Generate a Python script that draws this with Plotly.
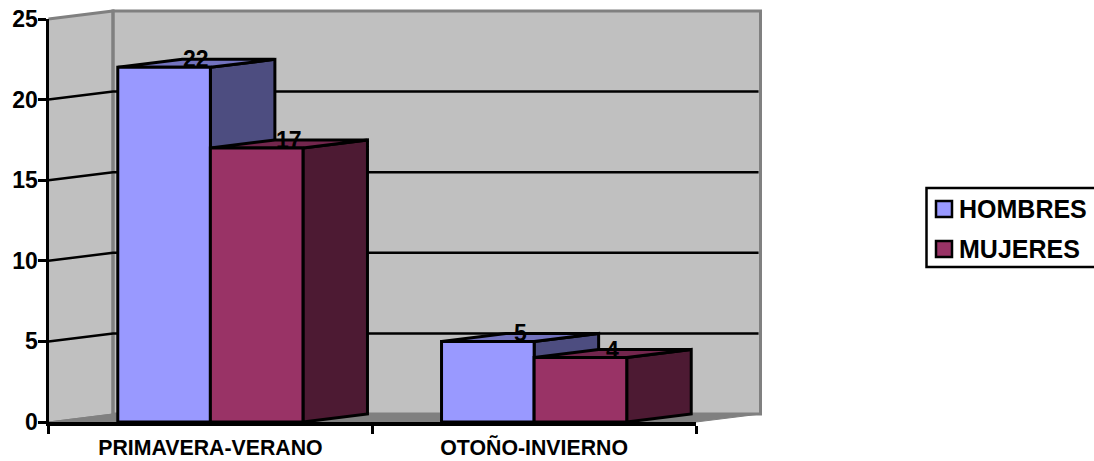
import plotly.graph_objects as go

# Chart data
categories = ["PRIMAVERA-VERANO", "OTOÑO-INVIERNO"]
hombres = [22, 5]
mujeres = [17, 4]
y_ticks = [0, 5, 10, 15, 20, 25]
series_names = ["HOMBRES", "MUJERES"]

# Canvas and pixel layout of the front plane
W, H = 1094, 461
PX_LEFT, PX_RIGHT = 48.5, 696
PX_ZERO, PX_TOP = 422, 19
DEPTH_PX_X, DEPTH_PX_Y = 64.5, 8

x_unit = (PX_RIGHT - PX_LEFT) / 2      # pixels per category
y_unit = (PX_ZERO - PX_TOP) / 25       # pixels per value unit
dx = DEPTH_PX_X / x_unit               # depth offset in data units
dy = DEPTH_PX_Y / y_unit
BAR_W = 0.286

FONT = "Liberation Sans, Arial, sans-serif"
BLACK = "#000000"
EDGE = 3
WALL = "#C0C0C0"
WALL_EDGE = "#808080"
FACES = [
    {"front": "#9999FF", "side": "#4D4D80", "top": "#7373BF"},
    {"front": "#993366", "side": "#4D1A33", "top": "#73264D"},
]

fig = go.Figure()


def poly(xs, ys, fill, line_color, width):
    fig.add_trace(go.Scatter(
        x=xs + xs[:1], y=ys + ys[:1], mode="lines", fill="toself" if fill else None,
        fillcolor=fill, line=dict(color=line_color, width=width),
        showlegend=False, hoverinfo="skip", xaxis="x", yaxis="y",
    ))


def path(xs, ys, color, width):
    fig.add_trace(go.Scatter(
        x=xs, y=ys, mode="lines", line=dict(color=color, width=width),
        showlegend=False, hoverinfo="skip", xaxis="x", yaxis="y",
    ))


X0, X1 = -0.5, 1.5
Y_MAX = max(y_ticks)

# Side wall, back wall and floor
poly([X0, X0 + dx, X0 + dx, X0], [0, dy, Y_MAX + dy, Y_MAX], WALL, WALL_EDGE, 1)
poly([X0 + dx, X1 + dx, X1 + dx, X0 + dx], [dy, dy, Y_MAX + dy, Y_MAX + dy], WALL, WALL_EDGE, 3)
path([X0, X0 + dx, X0 + dx], [Y_MAX, Y_MAX + dy, dy], WALL_EDGE, 3)
poly([X0, X1, X1 + dx, X0 + dx], [0, 0, dy, dy], WALL_EDGE, WALL_EDGE, 1)

# Gridlines run across the side wall and along the back wall
for v in y_ticks[1:-1]:
    path([X0, X0 + dx, X1 + dx - 0.006], [v, v + dy, v + dy], BLACK, 2.5)

# Top and side faces of every column, back to front
for c in range(len(categories)):
    for s, values in enumerate([hombres, mujeres]):
        v = values[c]
        left = c + (s - 1) * BAR_W
        right = left + BAR_W
        poly([right, right + dx, right + dx, right], [0, dy, v + dy, v], FACES[s]["side"], BLACK, EDGE)
        poly([left, left + dx, right + dx, right], [v, v + dy, v + dy, v], FACES[s]["top"], BLACK, EDGE)

# Front faces on real category and value axes
for s, values in enumerate([hombres, mujeres]):
    fig.add_trace(go.Bar(
        x=categories, y=values, name=series_names[s], xaxis="x2", yaxis="y2",
        marker=dict(color=FACES[s]["front"], line=dict(color=BLACK, width=EDGE)),
        showlegend=False, hoverinfo="skip",
    ))

annotations = []
# Value labels sit in the middle of each column's top face
for c in range(len(categories)):
    for s, values in enumerate([hombres, mujeres]):
        v = values[c]
        left = c + (s - 1) * BAR_W
        annotations.append(dict(
            x=left + BAR_W / 2 + dx / 2, y=v + dy, xref="x", yref="y", text=f"<b>{v}</b>",
            showarrow=False, xanchor="center", yanchor="middle",
            font=dict(family=FONT, size=23, color=BLACK),
        ))


# Legend box, cut by the right edge of the canvas
def px_x(p):
    return p / W


def px_y(p):
    return 1 - p / H


shapes = [dict(type="rect", xref="paper", yref="paper", x0=px_x(926.5), x1=px_x(1110),
               y0=px_y(267), y1=px_y(188), line=dict(color=BLACK, width=2.5),
               fillcolor="#FFFFFF", layer="above")]
for s, (name, top) in enumerate(zip(series_names, [201, 241])):
    shapes.append(dict(type="rect", xref="paper", yref="paper",
                       x0=px_x(936), x1=px_x(952), y0=px_y(top + 16), y1=px_y(top),
                       line=dict(color=BLACK, width=2.5), fillcolor=FACES[s]["front"], layer="above"))
    annotations.append(dict(
        x=px_x(957), y=px_y(top + 8), xref="paper", yref="paper", text=f"<b>{name}</b>",
        showarrow=False, xanchor="left", yanchor="middle",
        font=dict(family=FONT, size=25, color=BLACK),
    ))

fig.update_layout(
    width=W, height=H, margin=dict(l=0, r=0, t=0, b=0, pad=0),
    paper_bgcolor="#FFFFFF", plot_bgcolor="rgba(0,0,0,0)",
    showlegend=False, barmode="group", bargap=1 - 2 * BAR_W, bargroupgap=0,
    font=dict(family=FONT, color=BLACK),
    annotations=annotations, shapes=shapes,
    # Full-canvas axes holding the projected faces, on the same scale as the front plane
    xaxis=dict(domain=[0, 1], visible=False, fixedrange=True, automargin=False,
               range=[X0 - PX_LEFT / x_unit, X0 + (W - PX_LEFT) / x_unit]),
    yaxis=dict(domain=[0, 1], visible=False, fixedrange=True, automargin=False,
               range=[-(H - PX_ZERO) / y_unit, PX_ZERO / y_unit]),
    xaxis2=dict(
        domain=[PX_LEFT / W, PX_RIGHT / W], anchor="y2", type="category", automargin=False,
        categoryorder="array", categoryarray=categories, range=[X0, X1],
        tickson="boundaries", ticks="outside", ticklen=8, tickwidth=2.5, tickcolor=BLACK,
        showline=True, linecolor=BLACK, linewidth=3.5, showgrid=False, zeroline=False,
        tickfont=dict(family=FONT, size=21.3, color=BLACK, weight="bold"), ticklabelstandoff=4,
        fixedrange=True,
    ),
    yaxis2=dict(
        domain=[1 - PX_ZERO / H, 1 - PX_TOP / H], anchor="x2", range=[0, Y_MAX], automargin=False,
        tickvals=y_ticks, ticks="outside", ticklen=8, tickwidth=2.5, tickcolor=BLACK,
        showline=True, linecolor=BLACK, linewidth=3, showgrid=False, zeroline=False,
        tickfont=dict(family=FONT, size=23, color=BLACK, weight="bold"), ticklabelstandoff=-5,
        fixedrange=True,
    ),
)

fig.write_html("out.html", config={"displayModeBar": False})
